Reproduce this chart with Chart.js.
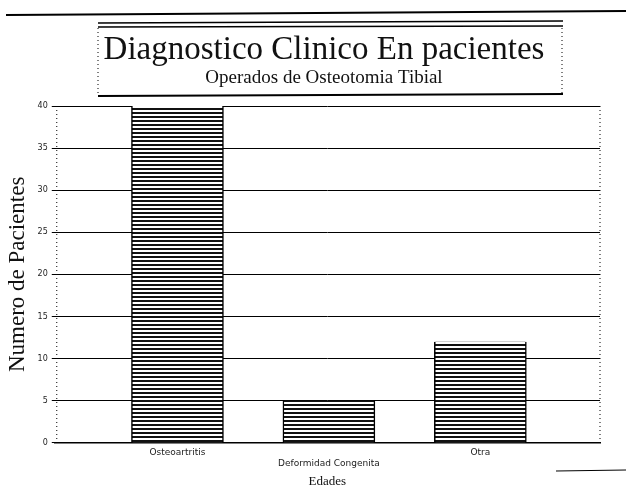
<!DOCTYPE html>
<html>
<head>
<meta charset="utf-8">
<script src="https://cdn.jsdelivr.net/npm/chart.js@4"></script>
<style>
  html,body{margin:0;padding:0;background:#fff;}
  #wrap{width:626px;height:489px;position:relative;}
</style>
</head>
<body>
<div id="wrap"><canvas id="c" width="626" height="489"></canvas></div>
<script>
// ---- data ----
const categories = ["Osteoartritis", "Deformidad Congenita", "Otra"];
const pacientes = [40, 5, 12];
const yTicks = [0, 5, 10, 15, 20, 25, 30, 35, 40];
const titleText = "Diagnostico Clinico En pacientes";
const subtitleText = "Operados de Osteotomia Tibial";
const yTitle = "Numero de Pacientes";
const xTitle = "Edades";

// striped fill pattern
function stripes() {
  const p = document.createElement('canvas');
  p.width = 4; p.height = 4;
  const g = p.getContext('2d');
  g.fillStyle = '#fff'; g.fillRect(0, 0, 4, 4);
  g.fillStyle = '#111'; g.fillRect(0, 0, 4, 2);
  return g.createPattern(p, 'repeat');
}
const ctx = document.getElementById('c').getContext('2d');

const decor = {
  id: 'decor',
  afterLayout(chart) {
    // shift title and subtitle blocks to sit centered in the title frame
    chart.boxes.forEach(b => {
      if (b.options && typeof b.options.text === 'string' && b.options.text.length && b.position === 'top') {
        b.left += 22; b.right += 22;
      }
    });
  },
  beforeDraw(chart) {
    const g = chart.ctx;
    g.save();
    g.fillStyle = '#fff';
    g.fillRect(0, 0, chart.width, chart.height);
    g.strokeStyle = '#000';
    // scanned header rule
    g.lineWidth = 2;
    g.beginPath(); g.moveTo(6, 15); g.lineTo(626, 11); g.stroke();
    // title frame
    g.lineWidth = 1.5;
    g.beginPath(); g.moveTo(98, 23); g.lineTo(563, 21); g.stroke();
    g.beginPath(); g.moveTo(98, 27); g.lineTo(563, 26); g.stroke();
    g.lineWidth = 2;
    g.beginPath(); g.moveTo(98, 96); g.lineTo(563, 94); g.stroke();
    g.lineWidth = 1;
    g.setLineDash([1, 3]);
    g.beginPath(); g.moveTo(98, 28); g.lineTo(98, 95); g.stroke();
    g.beginPath(); g.moveTo(562, 28); g.lineTo(562, 94); g.stroke();
    // dotted left and right edges of plot
    const a = chart.chartArea;
    g.beginPath(); g.moveTo(a.left + 2, a.top); g.lineTo(a.left + 2, a.bottom); g.stroke();
    g.beginPath(); g.moveTo(a.right, a.top); g.lineTo(a.right, a.bottom); g.stroke();
    g.setLineDash([]);
    // bottom right scrap rule
    g.beginPath(); g.moveTo(556, 471); g.lineTo(626, 470); g.stroke();
    g.restore();
  }
};

new Chart(ctx, {
  type: 'bar',
  data: {
    datasets: [{
      data: categories.map((c, i) => ({ x: i, y: pacientes[i] })),
      backgroundColor: stripes(),
      borderColor: '#000',
      borderWidth: { left: 1.5, right: 1.5, top: 0, bottom: 0 },
      borderSkipped: false,
      barThickness: 92
    }]
  },
  plugins: [decor],
  options: {
    responsive: false,
    animation: false,
    layout: { padding: { top: 26, left: 4, right: 26, bottom: 0 } },
    plugins: {
      legend: { display: false },
      tooltip: { enabled: false },
      title: {
        display: true, text: titleText, color: '#111',
        font: { family: 'Liberation Serif', size: 33, weight: 'normal', lineHeight: 1.0 },
        padding: { top: 8, bottom: 2 }
      },
      subtitle: {
        display: true, text: subtitleText, color: '#111',
        font: { family: 'Liberation Serif', size: 19, weight: 'normal', lineHeight: 1.0 },
        padding: { top: 0, bottom: 18 }
      }
    },
    scales: {
      x: {
        type: 'linear',
        offset: false,
        min: -0.81, max: 2.79,
        afterBuildTicks: s => { s.ticks = categories.map((c, i) => ({ value: i })); },
        grid: { display: false, drawTicks: false },
        border: { display: true, color: '#000', width: 1.5 },
        ticks: {
          color: '#222', padding: 5, maxRotation: 0, autoSkip: false,
          font: { family: 'DejaVu Sans', size: 9, lineHeight: 1.15 },
          callback: v => Number.isInteger(v) ? (v === 1 ? ['', categories[v]] : categories[v]) : ''
        },
        title: {
          display: true, text: xTitle, color: '#111',
          font: { family: 'Liberation Serif', size: 13 },
          padding: { top: 0, bottom: 0 }
        }
      },
      y: {
        min: 0, max: 40,
        afterBuildTicks: s => { s.ticks = yTicks.map(v => ({ value: v })); },
        grid: { color: '#000', lineWidth: 1, drawTicks: true, tickLength: 3 },
        border: { display: false },
        ticks: {
          color: '#222', padding: 4,
          font: { family: 'DejaVu Sans', size: 8 }
        },
        title: {
          display: true, text: yTitle, color: '#111',
          font: { family: 'Liberation Serif', size: 23 },
          padding: { top: 0, bottom: 2 }
        }
      }
    }
  }
});
</script>
</body>
</html>
